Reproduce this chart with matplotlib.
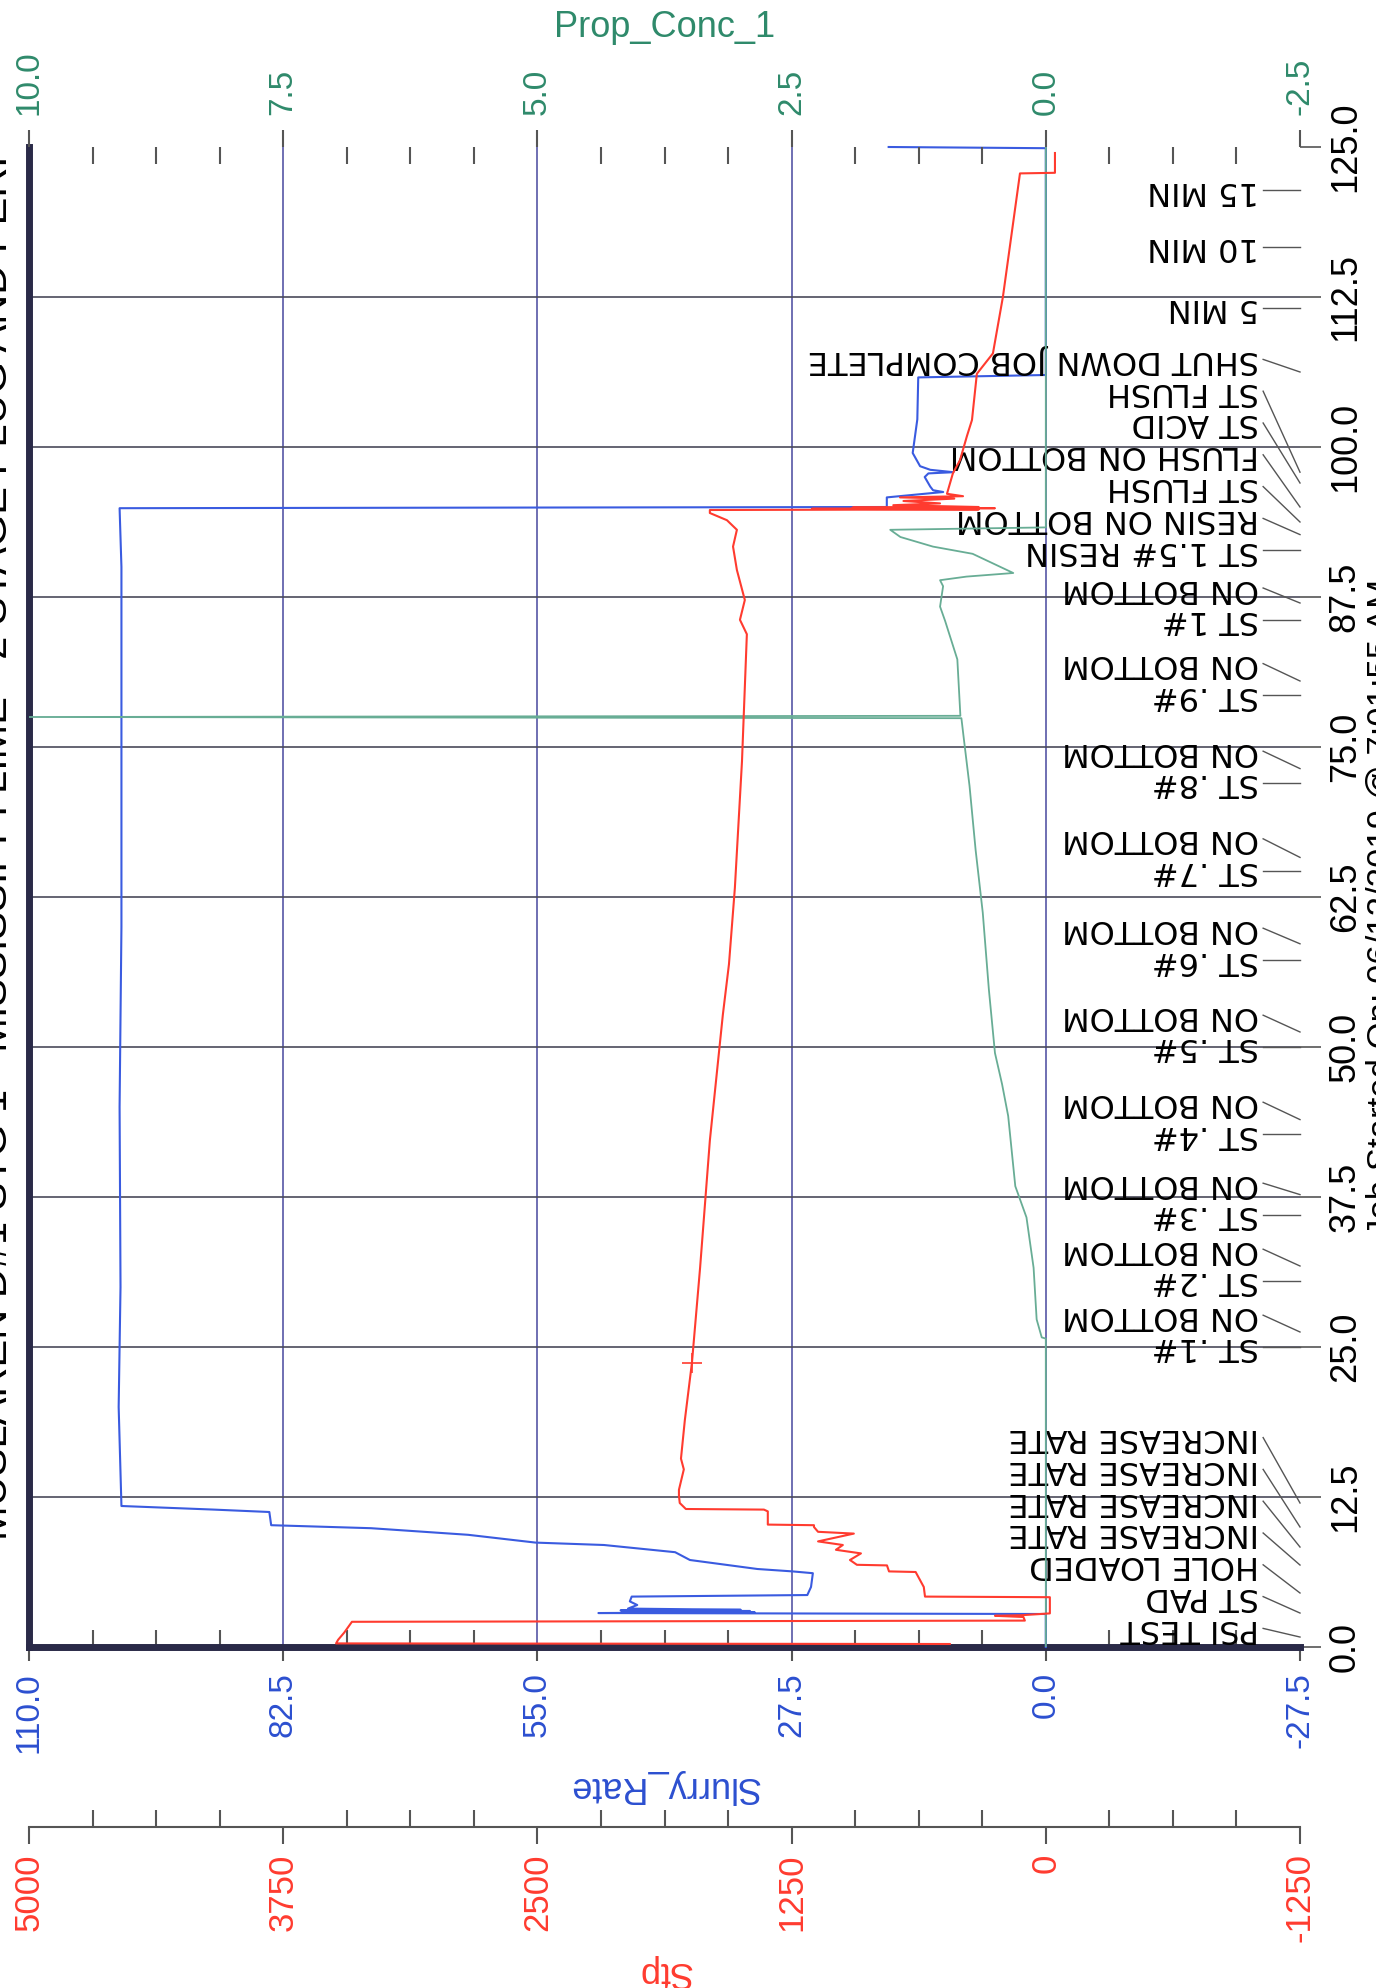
import numpy as np
import matplotlib.pyplot as plt
from matplotlib.ticker import MultipleLocator
import matplotlib.transforms as mtransforms

plt.rcParams['axes.unicode_minus'] = False
plt.rcParams['font.family'] = ['Liberation Sans', 'DejaVu Sans']

# ---- data, time in minutes
rate_t = [0, 2.75, 2.83, 2.9, 2.95, 3.0, 3.05, 3.1, 3.2, 3.5, 3.8, 4.2, 4.33, 5.0, 6.15,
          6.3, 6.5, 7.25, 7.9, 8.5, 8.7, 9.35, 9.9, 10.15, 11.25, 11.45, 11.75,
          20, 30, 45, 60, 75, 90, 94.9, 95.0, 95.8, 96.25, 96.4, 96.7, 97.5, 97.8,
          97.9, 98.1, 98.4, 99.5, 102.3, 105.8, 106.0, 124.9, 125.0]
rate = [0, 0, 48.4, 31.5, 45.0, 32.0, 46.0, 33.0, 45.2, 44.2, 45.0, 44.8, 25.8, 25.4, 25.2,
        27.4, 31.2, 38.5, 40.1, 47.8, 55.2, 62.5, 73.0, 83.8, 84.0, 90.0, 100.0,
        100.3, 100.1, 100.2, 100.0, 100.0, 100.0, 100.2, 17.2, 17.2, 11.1, 12.2, 12.5, 13.1, 12.7,
        10.0, 12.5, 13.6, 14.4, 13.9, 13.8, 0, 0, 17.0]

stp_t = [0.25, 0.3, 0.6, 1.2, 2.1, 2.2, 2.5, 2.6, 2.65, 2.8, 4.15, 4.2, 5.0, 6.25, 6.3,
         6.8, 6.85, 7.25, 7.8, 8.1, 8.5, 8.8, 9.45, 9.6, 10.0, 10.15, 10.2, 11.3, 11.45,
         11.5, 12.0, 12.6, 13.1, 14.8, 15.7, 18.9, 23.7, 31.6, 42.2, 52.7, 56.9, 63.25,
         73.8, 84.4, 85.6, 87.25, 89.75, 91.7, 93.1, 93.9, 94.5, 94.75, 94.8, 94.85,
         94.9, 94.95, 95.0, 95.15, 95.3, 95.5, 95.7, 95.8, 95.9, 96.1, 97.8, 98.9, 100.9,
         102.25, 106.1, 107.8, 112.5, 122.8, 122.85, 124.5]
stp = [472, 3490, 3480, 3450, 3412, 103, 110, 250, 120, -20, -20, 594, 600, 640, 771,
       781, 929, 963, 909, 1032, 998, 1120, 944, 1120, 1140, 1140, 1367, 1367, 1386,
       1770, 1800, 1804, 1804, 1780, 1794, 1775, 1740, 1700, 1652, 1588, 1558, 1529,
       1494, 1470, 1504, 1480, 1519, 1538, 1519, 1568, 1652, 1652, 330, 1150,
       250, 950, 330, 750, 520, 700, 450, 717, 407, 486, 457, 422, 388,
       363, 339, 260, 211, 127, -45, -45]
stp_mark_t = [23.7]
stp_mark = [1740]

prop_t = [0, 25.7, 25.8, 27.3, 31.6, 35.8, 38.4, 44.25, 46.9, 49.5, 54.8, 61.2, 66.4,
          71.75, 75.96, 77.4, 77.5, 77.6, 82.3, 85.5, 86.7, 88.4, 88.9, 89.2, 89.5,
          91.1, 91.7, 92.5, 93.1, 93.3, 125.0]
prop = [0, 0, 0.04, 0.09, 0.12, 0.19, 0.30, 0.37, 0.43, 0.50, 0.56, 0.62, 0.69,
        0.75, 0.81, 0.83, 10.0, 0.84, 0.87, 0.99, 1.04, 1.01, 1.04, 0.78, 0.32,
        0.72, 1.11, 1.43, 1.53, 0, 0]

event_txt = ['PSI TEST', 'ST PAD', 'HOLE LOADED', 'INCREASE RATE', 'INCREASE RATE',
             'INCREASE RATE', 'INCREASE RATE', 'ST .1#', 'ON BOTTOM', 'ST .2#', 'ON BOTTOM',
             'ST .3#', 'ON BOTTOM', 'ST .4#', 'ON BOTTOM', 'ST .5#', 'ON BOTTOM',
             'ST .6#', 'ON BOTTOM', 'ST .7#', 'ON BOTTOM', 'ST .8#', 'ON BOTTOM',
             'ST .9#', 'ON BOTTOM', 'ST 1#', 'ON BOTTOM', 'ST 1.5# RESIN',
             'RESIN ON BOTTOM', 'ST FLUSH', 'FLUSH ON BOTTOM', 'ST ACID', 'ST FLUSH',
             'SHUT DOWN JOB COMPLETE', '5 MIN', '10 MIN', '15 MIN']
event_t = [0.83, 2.83, 4.5, 6.83, 8.33, 10.0, 12.0, 25.0, 26.25, 30.5, 31.75,
           36.0, 37.7, 42.75, 43.95, 50.0, 51.25, 57.25, 58.6, 64.7, 65.8,
           72.0, 73.2, 79.3, 80.5, 85.6, 87.0, 91.4, 92.7, 93.75, 95.0, 97.0, 97.9,
           106.25, 111.6, 116.7, 121.4]

title_txt = 'MUSLAREN D#1 STG 1 - MISSISSIPPI LIME - 2 STAGE PLUG AND PERF'
job_txt = 'Job Started On: 06/12/2019 @ 7:01:55 AM'

# colours
blue = '#3a5be0'
blue_txt = '#2c4fd0'
red = '#ff3b2f'
teal = '#68ad95'
teal_txt = '#2f8a6b'
grid_v = '#5656a6'
grid_h = '#4a4a5a'
spine_c = '#2a2a48'
tick_c = '#555555'

W, H = 1376, 1988
fig = plt.figure(figsize=(W / 100, H / 100), dpi=100)
ax = fig.add_axes([29 / W, 1 - 1647 / H, 1271 / W, 1500 / H])
ax.set_xlim(110, -27.5)
ax.set_ylim(0, 125)

for s in ['top', 'right']:
    ax.spines[s].set_visible(False)
for s in ['left', 'bottom']:
    ax.spines[s].set_linewidth(5)
    ax.spines[s].set_color(spine_c)

# interior grid lines
for v in np.arange(82.5, -1, -27.5):
    ax.axvline(v, color=grid_v, lw=1.2, zorder=0)
for t in np.arange(12.5, 124, 12.5):
    ax.axhline(t, color=grid_h, lw=1.2, zorder=0)

# slurry rate (bottom axis)
ax.xaxis.set_major_locator(MultipleLocator(27.5))
ax.xaxis.set_minor_locator(MultipleLocator(6.875))
ax.tick_params(axis='x', which='major', direction='out', length=10, width=1.5,
               color=tick_c, labelsize=24, labelcolor=blue_txt, labelrotation=90, pad=8)
ax.tick_params(axis='x', which='minor', direction='in', length=12, width=1.5, color=tick_c)
ax.xaxis.set_major_formatter('{x:.1f}')
ax.set_xlabel('Slurry_Rate', color=blue_txt, fontsize=26, rotation=180, labelpad=12)

# time axis on the right
ax.yaxis.tick_right()
tt = np.arange(0, 125.1, 12.5)
ax.set_yticks(tt, labels=[f'{v:.1f}' for v in tt], rotation=90, va='center',
              fontsize=26, family=['Liberation Sans Narrow', 'Liberation Sans'])
ax.tick_params(axis='y', direction='out', length=15, width=1.2, color=tick_c, pad=5)

ax.plot(rate, rate_t, color=blue, lw=1.5, clip_on=False, zorder=3)

# proppant concentration (top axis)
axp = ax.twiny()
axp.set_xlim(10, -2.5)
for s in axp.spines.values():
    s.set_visible(False)
axp.xaxis.set_major_locator(MultipleLocator(2.5))
axp.xaxis.set_minor_locator(MultipleLocator(0.625))
axp.xaxis.set_major_formatter('{x:.1f}')
axp.tick_params(axis='x', which='major', direction='out', length=12, width=1.5,
                color=tick_c, labelsize=24, labelcolor=teal_txt, labelrotation=90, pad=11)
axp.tick_params(axis='x', which='minor', direction='in', length=12, width=1.5, color=tick_c)
axp.set_xlabel('Prop_Conc_1', color=teal_txt, fontsize=26, labelpad=10)
axp.plot(prop, prop_t, color=teal, lw=1.3, zorder=3)

# pressure (separate lower axis)
axs = ax.twiny()
axs.set_xlim(5000, -1250)
for s in ['top', 'left', 'right']:
    axs.spines[s].set_visible(False)
axs.xaxis.set_ticks_position('bottom')
axs.xaxis.set_label_position('bottom')
axs.spines['bottom'].set_position(('outward', 180 * 0.72))
axs.spines['bottom'].set_color(tick_c)
axs.spines['bottom'].set_linewidth(1.5)
axs.xaxis.set_major_locator(MultipleLocator(1250))
axs.xaxis.set_minor_locator(MultipleLocator(312.5))
axs.tick_params(axis='x', which='major', direction='out', length=12, width=1.5,
                color=tick_c, labelsize=25, labelcolor=red, labelrotation=90, pad=7)
axs.tick_params(axis='x', which='minor', direction='in', length=12, width=1.5, color=tick_c)
axs.set_xlabel('Stp', color=red, fontsize=26, rotation=180, labelpad=8)
axs.plot(stp, stp_t, color=red, lw=1.5, zorder=3)
axs.plot(stp_mark, stp_mark_t, '+', color=red, ms=14, mew=1.2)

# event labels, spread so they do not overlap
gap = 2.65
lab_t = []
prev = -1e9
for t in event_t:
    p = max(t, prev + gap, 1.55)
    lab_t.append(p)
    prev = p

trans = mtransforms.blended_transform_factory(ax.transAxes, ax.transData)
for txt, te, tl in zip(event_txt, event_t, lab_t):
    ax.text(0.968, tl, txt, transform=trans, rotation=180, ha='right', va='center',
            fontsize=23, family='DejaVu Sans', color='black', zorder=4)
    ax.plot([0.971, 1.0], [tl, te], transform=trans, color='#555555', lw=1,
            clip_on=False, zorder=4)

# header and job start line, partly outside the page as in the scan
fig.text(-24 / W, 1 - 1540 / H, title_txt, rotation=90, ha='left', va='bottom',
         fontsize=30, color='black')
fig.text(1366 / W, 1 - 907 / H, job_txt, rotation=90, ha='left', va='center',
         fontsize=25, color='black')

fig.savefig('out.png', dpi=100)
